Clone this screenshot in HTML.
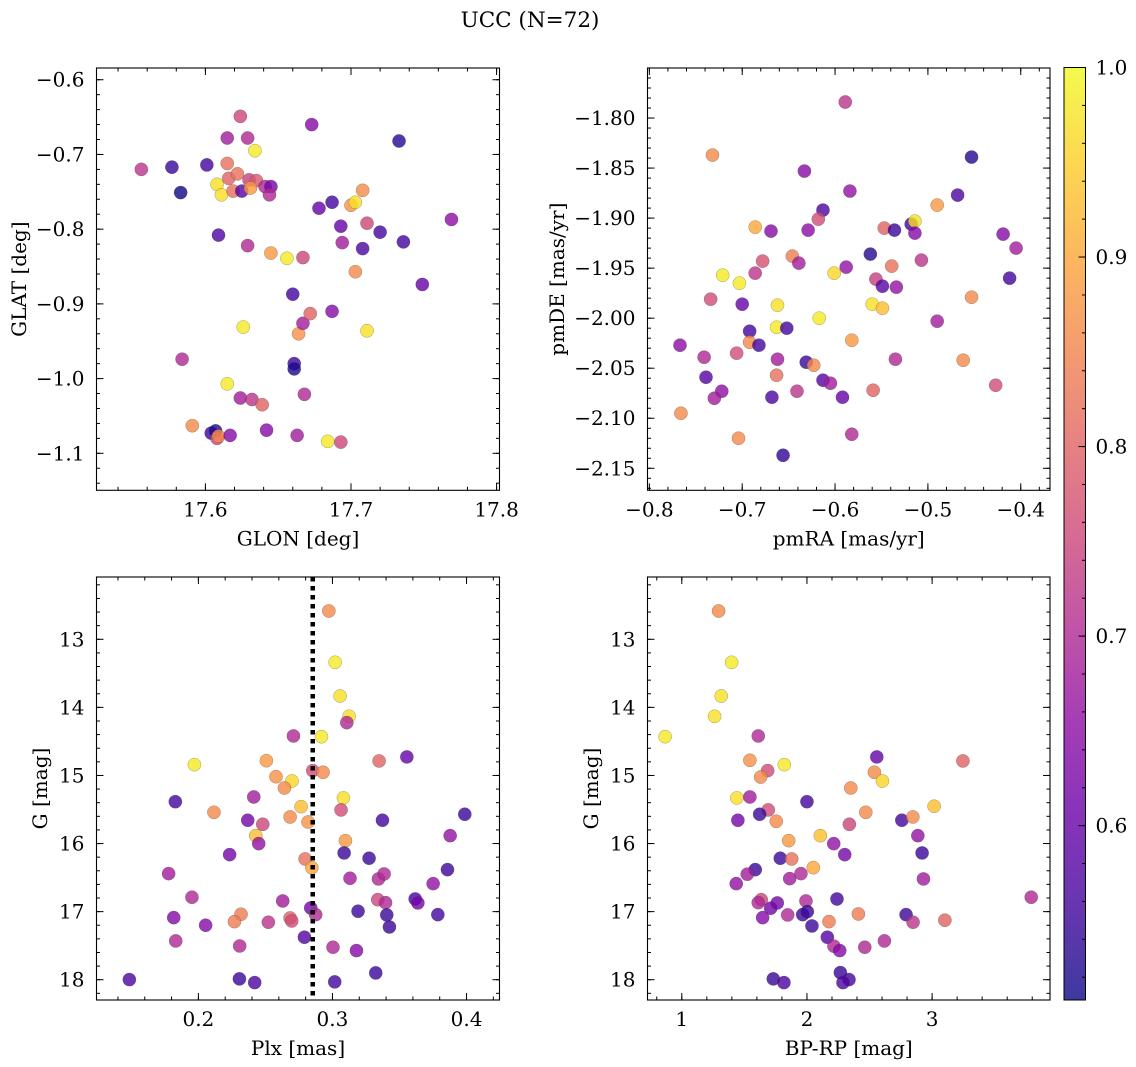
<!DOCTYPE html>
<html><head><meta charset="utf-8"><style>
html,body{margin:0;padding:0;background:#fff;}
svg{display:block;font-family:"DejaVu Serif",serif;}
</style></head><body>
<svg id="fig" width="1136" height="1067" viewBox="0 0 1136 1067" xmlns="http://www.w3.org/2000/svg">
<defs><linearGradient id="plasma" x1="0" y1="1" x2="0" y2="0"></linearGradient></defs>
<text x="530" y="27" font-size="21.5" text-anchor="middle">UCC (N=72)</text>
</svg>
<script>
// Panel 1: GLON vs GLAT
const glon1=[17.556,17.577,17.583,17.601,17.609,17.615,17.624,17.629,17.634,17.615,17.608,17.611,17.616,17.622,17.619,17.625,17.630,17.635,17.631,17.641,17.645,17.644,17.673,17.629,17.645,17.656,17.667,17.660,17.678,17.687,17.693,17.694,17.700,17.703,17.708,17.711,17.708,17.720,17.736,17.733,17.749,17.769,17.703,17.626,17.664,17.667,17.672,17.687,17.711,17.661,17.661,17.584,17.668,17.615,17.624,17.632,17.639,17.591,17.604,17.607,17.608,17.609,17.617,17.642,17.663,17.684,17.693];
const glat1=[-0.720,-0.717,-0.751,-0.714,-0.808,-0.678,-0.649,-0.678,-0.695,-0.712,-0.740,-0.754,-0.732,-0.726,-0.749,-0.749,-0.734,-0.735,-0.745,-0.743,-0.743,-0.754,-0.660,-0.822,-0.832,-0.839,-0.838,-0.887,-0.772,-0.764,-0.796,-0.818,-0.768,-0.764,-0.748,-0.792,-0.826,-0.804,-0.817,-0.682,-0.874,-0.787,-0.857,-0.931,-0.940,-0.926,-0.913,-0.910,-0.936,-0.980,-0.987,-0.974,-1.021,-1.007,-1.026,-1.028,-1.035,-1.063,-1.073,-1.070,-1.080,-1.077,-1.076,-1.069,-1.076,-1.084,-1.085];
const prob1=[0.72,0.55,0.5,0.56,0.57,0.68,0.75,0.7,0.98,0.82,0.97,0.97,0.8,0.82,0.82,0.58,0.74,0.78,0.88,0.7,0.62,0.7,0.64,0.7,0.88,0.98,0.75,0.56,0.6,0.56,0.6,0.68,0.87,0.97,0.86,0.75,0.57,0.56,0.56,0.53,0.6,0.65,0.86,0.98,0.87,0.68,0.8,0.64,0.97,0.55,0.52,0.7,0.7,0.98,0.68,0.72,0.8,0.86,0.55,0.52,0.75,0.86,0.64,0.64,0.68,0.98,0.75];
// Panel 2: pmRA vs pmDE
const pmra2=[-0.589,-0.732,-0.453,-0.633,-0.584,-0.468,-0.490,-0.613,-0.618,-0.686,-0.669,-0.629,-0.547,-0.536,-0.518,-0.514,-0.514,-0.419,-0.405,-0.562,-0.646,-0.639,-0.678,-0.686,-0.721,-0.703,-0.601,-0.588,-0.539,-0.507,-0.556,-0.549,-0.534,-0.412,-0.734,-0.700,-0.662,-0.560,-0.549,-0.453,-0.617,-0.663,-0.652,-0.692,-0.582,-0.692,-0.682,-0.767,-0.490,-0.741,-0.706,-0.662,-0.631,-0.623,-0.535,-0.462,-0.739,-0.663,-0.613,-0.605,-0.722,-0.730,-0.668,-0.641,-0.592,-0.559,-0.427,-0.766,-0.704,-0.582,-0.656];
const pmde2=[-1.784,-1.837,-1.839,-1.853,-1.873,-1.877,-1.887,-1.892,-1.901,-1.909,-1.913,-1.912,-1.910,-1.912,-1.906,-1.903,-1.915,-1.916,-1.930,-1.936,-1.938,-1.945,-1.943,-1.955,-1.957,-1.965,-1.955,-1.949,-1.948,-1.942,-1.961,-1.968,-1.969,-1.960,-1.981,-1.986,-1.987,-1.986,-1.990,-1.979,-2.000,-2.009,-2.010,-2.013,-2.022,-2.024,-2.027,-2.027,-2.003,-2.039,-2.035,-2.041,-2.044,-2.047,-2.041,-2.042,-2.059,-2.057,-2.062,-2.065,-2.073,-2.080,-2.079,-2.073,-2.079,-2.072,-2.067,-2.095,-2.120,-2.116,-2.137];
const prob2=[0.72,0.86,0.53,0.64,0.66,0.57,0.88,0.57,0.76,0.9,0.64,0.65,0.8,0.55,0.56,0.97,0.64,0.64,0.68,0.53,0.84,0.68,0.77,0.72,0.98,0.98,0.96,0.66,0.82,0.72,0.74,0.58,0.66,0.56,0.76,0.6,0.97,0.97,0.93,0.86,0.98,0.98,0.56,0.56,0.88,0.86,0.56,0.65,0.68,0.7,0.76,0.68,0.55,0.86,0.7,0.86,0.58,0.82,0.58,0.68,0.65,0.68,0.57,0.72,0.6,0.8,0.76,0.86,0.86,0.7,0.54];
// Panel 3: Plx vs G
const plx3=[0.2973,0.302,0.3057,0.3124,0.3107,0.2709,0.2918,0.3555,0.197,0.2507,0.3348,0.2853,0.293,0.2579,0.2698,0.2642,0.1828,0.2413,0.2766,0.3082,0.3064,0.2116,0.3987,0.2368,0.2684,0.2818,0.248,0.3373,0.2428,0.245,0.3097,0.3878,0.2233,0.3087,0.3273,0.2796,0.2846,0.1778,0.3131,0.3343,0.3385,0.3751,0.3858,0.1952,0.2629,0.3338,0.3396,0.3617,0.3637,0.2838,0.2875,0.3191,0.3405,0.3425,0.3786,0.1816,0.2054,0.2318,0.2269,0.2522,0.2684,0.2696,0.2791,0.1831,0.2308,0.3004,0.3179,0.3323,0.1485,0.2306,0.242,0.3017];
const g3=[12.584,13.338,13.833,14.131,14.224,14.420,14.430,14.728,14.841,14.783,14.787,14.929,14.953,15.018,15.081,15.184,15.385,15.316,15.458,15.330,15.506,15.541,15.570,15.658,15.609,15.683,15.717,15.658,15.884,16.001,15.957,15.884,16.163,16.138,16.216,16.226,16.354,16.442,16.510,16.520,16.447,16.589,16.383,16.789,16.843,16.824,16.868,16.814,16.872,16.946,17.044,16.994,17.048,17.225,17.044,17.088,17.200,17.038,17.147,17.156,17.093,17.137,17.376,17.430,17.504,17.523,17.572,17.900,17.998,17.988,18.042,18.032];
const prob3=[0.86,0.98,0.97,0.97,0.7,0.7,0.98,0.6,0.98,0.88,0.8,0.76,0.86,0.87,0.96,0.86,0.56,0.68,0.93,0.97,0.76,0.86,0.55,0.62,0.86,0.87,0.75,0.56,0.93,0.66,0.88,0.66,0.62,0.55,0.55,0.82,0.9,0.68,0.68,0.7,0.7,0.66,0.55,0.7,0.68,0.75,0.7,0.56,0.62,0.62,0.7,0.55,0.55,0.55,0.56,0.64,0.64,0.84,0.84,0.72,0.8,0.76,0.58,0.7,0.7,0.7,0.64,0.55,0.57,0.55,0.57,0.56];
const plxLine=0.2853;
// Panel 4: BP-RP vs G
const bprp4=[1.294,1.398,1.315,1.262,0.867,1.611,2.558,3.246,1.544,1.819,1.686,1.630,2.539,2.603,2.350,1.440,1.544,2.000,3.016,2.470,1.691,1.622,2.758,2.846,1.448,1.755,2.339,2.107,2.214,2.886,1.854,1.787,2.302,2.920,1.878,2.051,1.587,1.523,1.435,1.862,1.952,2.931,1.635,1.611,1.763,1.710,1.992,2.240,3.792,1.646,1.846,1.966,2.003,2.040,2.176,2.411,2.792,2.848,3.102,2.163,2.216,2.262,2.462,2.619,2.267,2.336,2.288,1.731,1.816];
const g4=[12.584,13.338,13.833,14.131,14.430,14.420,14.728,14.787,14.777,14.841,14.929,15.023,14.953,15.081,15.184,15.330,15.316,15.385,15.452,15.541,15.506,15.570,15.658,15.609,15.658,15.673,15.717,15.884,16.001,15.884,15.957,16.216,16.163,16.138,16.226,16.354,16.383,16.450,16.589,16.515,16.442,16.520,16.824,16.868,16.872,16.950,16.843,16.814,16.789,17.088,17.048,17.044,17.000,17.210,17.147,17.034,17.044,17.156,17.126,17.376,17.508,17.572,17.523,17.430,17.895,17.998,18.042,17.988,18.042];
const prob4=[0.86,0.98,0.97,0.97,0.98,0.7,0.6,0.8,0.87,0.98,0.76,0.86,0.86,0.96,0.86,0.97,0.68,0.56,0.93,0.86,0.76,0.55,0.56,0.86,0.62,0.86,0.75,0.93,0.66,0.66,0.88,0.55,0.62,0.55,0.82,0.9,0.55,0.68,0.66,0.68,0.7,0.68,0.75,0.7,0.62,0.62,0.7,0.56,0.7,0.64,0.7,0.55,0.55,0.55,0.84,0.84,0.55,0.72,0.8,0.58,0.7,0.64,0.7,0.7,0.55,0.56,0.57,0.55,0.57];
// ticks
const xt1=[17.6,17.7,17.8], yt1=[-0.6,-0.7,-0.8,-0.9,-1.0,-1.1];
const xt2=[-0.8,-0.7,-0.6,-0.5,-0.4], yt2=[-1.80,-1.85,-1.90,-1.95,-2.00,-2.05,-2.10,-2.15];
const xt3=[0.2,0.3,0.4], yt3=[13,14,15,16,17,18];
const xt4=[1,2,3], yt4=[13,14,15,16,17,18];
const cbTicks=[0.6,0.7,0.8,0.9,1.0];
const vmin=0.508, vmax=1.0;

const FS=20;
const NS="http://www.w3.org/2000/svg";
const svg=document.getElementById('fig');
function mk(tag,attrs,parent){const e=document.createElementNS(NS,tag);for(const k in attrs)e.setAttribute(k,attrs[k]);(parent||svg).appendChild(e);return e;}
const stops=[[13,8,135],[65,4,157],[106,0,168],[143,13,164],[177,42,144],[204,71,120],[225,100,98],[242,132,75],[252,166,54],[252,206,37],[240,249,33]];
function plasma(v){let t=(v-vmin)/(vmax-vmin);t=Math.max(0,Math.min(1,t))*10;const i=Math.min(9,Math.floor(t)),f=t-i;const a=stops[i],b=stops[i+1];return 'rgb('+a.map((c,k)=>Math.round(c+(b[k]-c)*f)).join(',')+')';}
function fmt(v,d){return (v<0?'\u2212':'')+Math.abs(v).toFixed(d);}

function panel(o){
  const g=mk('g',{});
  
  
  const sx=v=>o.L+(v-o.x0)/(o.x1-o.x0)*(o.R-o.L);
  const sy=v=>o.B-(v-o.y0)/(o.y1-o.y0)*(o.B-o.T);
  const cp='clip-'+o.name;
  const c=mk('clipPath',{id:cp},g);mk('rect',{x:o.L,y:o.T,width:o.R-o.L,height:o.B-o.T},c);
  const pg=mk('g',{'clip-path':'url(#'+cp+')'},g);
  
  
  const n=Math.min(o.xs.length,o.ys.length,o.cs.length);
  for(let i=0;i<n;i++){
    const p=mk('circle',{cx:sx(o.xs[i]),cy:sy(o.ys[i]),r:6.6,fill:plasma(o.cs[i]),'fill-opacity':0.8,stroke:'rgba(60,60,60,0.45)','stroke-width':0.5},pg);
    
    
  }
  if(o.vline!==undefined){
    const l=mk('line',{x1:sx(o.vline),x2:sx(o.vline),y1:o.T,y2:o.B,stroke:'#000','stroke-width':4.5,'stroke-dasharray':'4.5 4.5'},g);
    
    
  }
  const tg=mk('g',{stroke:'#000','stroke-width':1},g);
  const lo=(a,b)=>Math.min(a,b),hi=(a,b)=>Math.max(a,b);
  for(let k=Math.ceil(lo(o.x0,o.x1)/o.xm-1e-6);k*o.xm<=hi(o.x0,o.x1)+1e-9;k++){const X=sx(k*o.xm);
    mk('line',{x1:X,x2:X,y1:o.B,y2:o.B-3.5},tg);mk('line',{x1:X,x2:X,y1:o.T,y2:o.T+3.5},tg);}
  for(let k=Math.ceil(lo(o.y0,o.y1)/o.ym-1e-6);k*o.ym<=hi(o.y0,o.y1)+1e-9;k++){const Y=sy(k*o.ym);
    mk('line',{x1:o.L,x2:o.L+3.5,y1:Y,y2:Y},tg);mk('line',{x1:o.R,x2:o.R-3.5,y1:Y,y2:Y},tg);}
  o.xt.forEach(v=>{const X=sx(v);mk('line',{x1:X,x2:X,y1:o.B,y2:o.B-7},tg);mk('line',{x1:X,x2:X,y1:o.T,y2:o.T+7},tg);
    const t=mk('text',{x:X,y:o.B+26,'font-size':FS,'text-anchor':'middle'},g);t.textContent=fmt(v,o.xd);
    });
  o.yt.forEach(v=>{const Y=sy(v);mk('line',{x1:o.L,x2:o.L+7,y1:Y,y2:Y},tg);mk('line',{x1:o.R,x2:o.R-7,y1:Y,y2:Y},tg);
    const t=mk('text',{x:o.L-12,y:Y+7,'font-size':FS,'text-anchor':'end'},g);t.textContent=o.yd<0?String(v):fmt(v,o.yd);
    });
  const fr=mk('rect',{x:o.L,y:o.T,width:o.R-o.L,height:o.B-o.T,fill:'none',stroke:'#000','stroke-width':1.1},g);
  
  const xl=mk('text',{x:(o.L+o.R)/2,y:o.B+55,'font-size':FS,'text-anchor':'middle'},g);xl.textContent=o.xlab;
  
  const yx=o.ylx, yy=(o.T+o.B)/2;
  const yl=mk('text',{x:yx,y:yy,'font-size':FS,'text-anchor':'middle',transform:'rotate(-90 '+yx+' '+yy+')'},g);yl.textContent=o.ylab;
  
}
panel({name:'glon-glat-panel',L:96.5,R:499.5,T:68,B:490.3,x0:17.5252,x1:17.802,y0:-1.1495,y1:-0.5843,xs:glon1,ys:glat1,cs:prob1,xt:xt1,yt:yt1,xm:0.02,ym:0.02,xd:1,yd:1,xlab:'GLON [deg]',ylab:'GLAT [deg]',ylx:26});
panel({name:'pm-panel',L:647.5,R:1050,T:68,B:490.3,x0:-0.802,x1:-0.3685,y0:-2.172,y1:-1.75,xs:pmra2,ys:pmde2,cs:prob2,xt:xt2,yt:yt2,xm:0.02,ym:0.01,xd:1,yd:2,xlab:'pmRA [mas/yr]',ylab:'pmDE [mas/yr]',ylx:564});
panel({name:'plx-g-panel',L:96.5,R:499.5,T:577,B:1000,x0:0.124,x1:0.4246,y0:18.298,y1:12.085,xs:plx3,ys:g3,cs:prob3,xt:xt3,yt:yt3,xm:0.02,ym:0.2,xd:1,yd:-1,xlab:'Plx [mas]',ylab:'G [mag]',ylx:47,vline:plxLine});
panel({name:'cmd-panel',L:647.5,R:1050,T:577,B:1000,x0:0.726,x1:3.942,y0:18.298,y1:12.085,xs:bprp4,ys:g4,cs:prob4,xt:xt4,yt:yt4,xm:0.2,ym:0.2,xd:0,yd:-1,xlab:'BP-RP [mag]',ylab:'G [mag]',ylx:598});

// colorbar
const grad=document.getElementById('plasma');
for(let i=0;i<=10;i++){mk('stop',{offset:(i*10)+'%','stop-color':'rgb('+stops[i].join(',')+')','stop-opacity':0.8},grad);}
const cbL=1064,cbR=1085.5,cbT=67.5,cbB=1000;
const cy=v=>cbB-(v-vmin)/(vmax-vmin)*(cbB-cbT);
const cb=mk('g',{});


mk('rect',{x:cbL,y:cbT,width:cbR-cbL,height:cbB-cbT,fill:'url(#plasma)',stroke:'#000','stroke-width':1},cb);
for(let k=Math.ceil(vmin/0.02);k*0.02<=vmax+1e-9;k++){const Y=cy(k*0.02);mk('line',{x1:cbR,x2:cbR-3.5,y1:Y,y2:Y,stroke:'#000','stroke-width':1},cb);}
cbTicks.forEach(v=>{const Y=cy(v);mk('line',{x1:cbR,x2:cbR-7,y1:Y,y2:Y,stroke:'#000','stroke-width':1},cb);
  const t=mk('text',{x:cbR+10,y:Y+7,'font-size':FS},cb);t.textContent=v.toFixed(1);
  });
</script>
</body></html>
